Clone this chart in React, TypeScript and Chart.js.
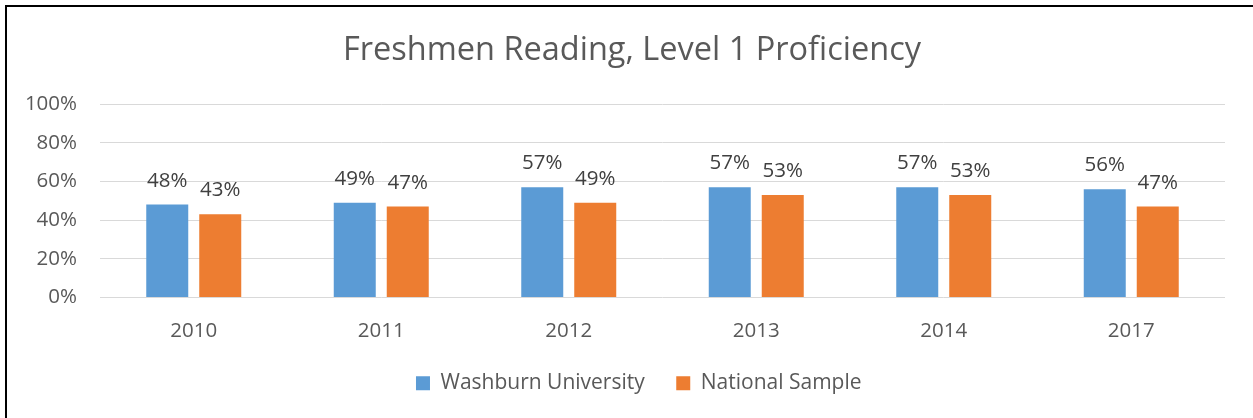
import React, { useEffect, useRef } from "react";
import { Chart, registerables } from "chart.js";

Chart.register(...registerables);

const titleText = "Freshmen Reading, Level 1 Proficiency";
const years = ["2010", "2011", "2012", "2013", "2014", "2017"];
const washburn = [48, 49, 57, 57, 57, 56];
const national = [43, 47, 49, 53, 53, 47];
const seriesNames = ["Washburn University", "National Sample"];
const yTicks = [0, 20, 40, 60, 80, 100];

const FONT = "'Open Sans', sans-serif";

const dataLabelPlugin = {
  id: "dataLabels",
  afterDatasetsDraw(chart: any) {
    const ctx = chart.ctx;
    ctx.save();
    ctx.font = `20.5px ${FONT}`;
    ctx.fillStyle = "#404040";
    ctx.textAlign = "center";
    ctx.textBaseline = "alphabetic";
    chart.data.datasets.forEach((ds: any, di: number) => {
      const meta = chart.getDatasetMeta(di);
      meta.data.forEach((el: any, i: number) => {
        ctx.fillText(`${ds.data[i]}%`, el.x, el.y - 18);
      });
    });
    ctx.restore();
  },
};

const titlePlugin = {
  id: "chartTitle",
  afterDraw(chart: any) {
    const ctx = chart.ctx;
    ctx.save();
    ctx.font = `32.5px ${FONT}`;
    ctx.fillStyle = "#595959";
    ctx.textAlign = "center";
    ctx.textBaseline = "alphabetic";
    ctx.fillText(titleText, 632, 60);
    ctx.restore();
  },
};

export default function App() {
  const ref = useRef<HTMLCanvasElement | null>(null);

  useEffect(() => {
    if (!ref.current) return;
    const chart = new Chart(ref.current, {
      type: "bar",
      data: {
        labels: years,
        datasets: [
          {
            label: seriesNames[0],
            data: washburn,
            backgroundColor: "#5B9BD5",
            borderWidth: 0,
            categoryPercentage: 0.5653,
            barPercentage: 0.7925,
            yAxisID: "y",
          },
          {
            label: seriesNames[1],
            data: national,
            backgroundColor: "#ED7D31",
            borderWidth: 0,
            categoryPercentage: 0.5653,
            barPercentage: 0.7925,
            yAxisID: "y",
          },
        ],
      },
      options: {
        responsive: false,
        animation: false,
        devicePixelRatio: 1,
        layout: { padding: { left: 22, right: 0.5, top: 104, bottom: 14.3 } },
        plugins: {
          title: { display: false },
          legend: {
            position: "bottom",
            labels: {
              boxWidth: 14,
              boxHeight: 14,
              padding: 31.5,
              color: "#595959",
              font: { family: FONT, size: 21 },
            },
          },
          tooltip: { enabled: false },
        },
        scales: {
          x: {
            grid: { display: false, drawTicks: false },
            border: { display: false },
            ticks: {
              color: "#595959",
              font: { family: FONT, size: 20.5 },
              padding: 21,
            },
            afterFit: (s: any) => {
              s.height = 43.7;
            },
          },
          y: {
            position: "left",
            min: 0,
            max: 100,
            grid: { color: "#D9D9D9", lineWidth: 1, drawTicks: false },
            border: { display: false },
            afterBuildTicks: (s: any) => {
              s.ticks = yTicks.map((v) => ({ value: v }));
            },
            ticks: {
              color: "#595959",
              font: { family: FONT, size: 20.5 },
              padding: 23,
              callback: (v: any) => `${v}%`,
            },
            afterFit: (s: any) => {
              s.width = 78;
            },
          },
          yRight: {
            type: "linear",
            position: "right",
            display: true,
            grid: { display: false, drawTicks: false },
            border: { display: false },
            ticks: { display: false },
            afterFit: (s: any) => {
              s.width = 30.5;
            },
          },
        },
      },
      plugins: [dataLabelPlugin, titlePlugin],
    });
    return () => chart.destroy();
  }, []);

  return (
    <div
      style={{
        position: "fixed",
        left: 0,
        top: 0,
        width: 1253,
        height: 418,
        background: "#fff",
        overflow: "hidden",
      }}
    >
      <div
        style={{
          position: "absolute",
          left: 5,
          top: 5,
          width: 1400,
          height: 600,
          borderLeft: "2px solid #000",
          borderTop: "2px solid #000",
        }}
      />
      <canvas
        ref={ref}
        width={1256}
        height={418}
        style={{ position: "absolute", left: 0, top: 0, width: 1256, height: 418 }}
      />
    </div>
  );
}
